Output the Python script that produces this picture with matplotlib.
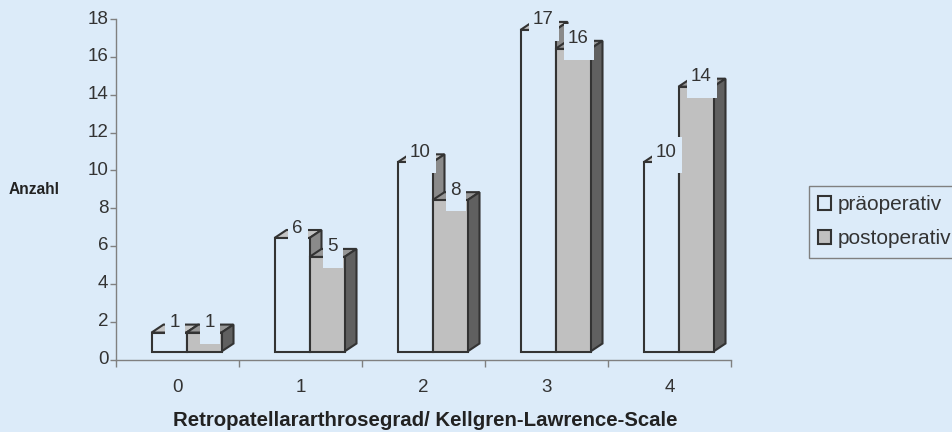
import matplotlib
matplotlib.use("Agg")
import matplotlib.pyplot as plt
from matplotlib.patches import Patch, Polygon, Rectangle
from matplotlib.transforms import ScaledTranslation

plt.rcParams['font.family'] = ['Liberation Sans', 'DejaVu Sans']

categories = [0, 1, 2, 3, 4]
pre_values = [1, 6, 10, 17, 10]
post_values = [1, 5, 8, 16, 14]
y_ticks = [0, 2, 4, 6, 8, 10, 12, 14, 16, 18]

BG = '#dcebf9'
EDGE = '#333333'
GREY = '#808080'

fig = plt.figure(figsize=(9.52, 4.32), dpi=100, facecolor=BG)
ax = fig.add_axes([116 / 952, 1 - 359.5 / 432, 615 / 952, 340.5 / 432], facecolor=BG)
ax.set_xlim(-0.5, 4.5)
ax.set_ylim(0, 18)

# size of one pixel in data units, used for the fake 3D offsets
px = 5.0 / 615
py = 18.0 / 340.5
bar_w = 35 * px
depth_x = 12 * px
depth_y = 8 * py
base = depth_y


def bar3d(x0, value, front, top, side, z):
    y1 = base + value
    x1 = x0 + bar_w
    style = dict(edgecolor=EDGE, linewidth=1.5, joinstyle='miter', zorder=z)
    ax.add_patch(Polygon([(x0, y1), (x0 + depth_x, y1 + depth_y),
                          (x1 + depth_x, y1 + depth_y), (x1, y1)],
                         facecolor=top, **style))
    ax.add_patch(Polygon([(x1, base), (x1 + depth_x, base + depth_y),
                          (x1 + depth_x, y1 + depth_y), (x1, y1)],
                         facecolor=side, **style))
    ax.add_patch(Rectangle((x0, base), bar_w, value, facecolor=front, **style))


def label(x0, value, z):
    # value label sits on a background coloured box which cuts into the bars
    txt = str(value)
    y1 = base + value
    if len(txt) > 1:
        left, width = 8 * px, 30 * px
    else:
        left, width = 13 * px, 20 * px
    ax.add_patch(Rectangle((x0 + left, y1 - 11 * py), width, 36 * py,
                           facecolor=BG, edgecolor='none', zorder=z))
    ax.text(x0 + 23 * px, y1 + 10 * py, txt, ha='center', va='center',
            fontsize=13.5, color='#333333', zorder=z + 1)


for c, pre, post in zip(categories, pre_values, post_values):
    x_pre = c - 26 * px
    x_post = x_pre + bar_w
    bar3d(x_pre, pre, BG, '#c4c4c4', '#8a8a8a', 3)
    bar3d(x_post, post, '#c0c0c0', '#969696', '#606060', 4)
    label(x_pre, pre, 5)
    label(x_post, post, 7)

for s in ['top', 'right']:
    ax.spines[s].set_visible(False)
for s in ['left', 'bottom']:
    ax.spines[s].set_color(GREY)
    ax.spines[s].set_linewidth(1.0)

ax.set_yticks(y_ticks)
ax.set_xticks([-0.5, 0.5, 1.5, 2.5, 3.5, 4.5])
ax.set_xticklabels([])
ax.set_xticks(categories, minor=True)
ax.set_xticklabels([str(c) for c in categories], minor=True)
ax.tick_params(axis='y', length=4, width=1, color=GREY, labelsize=13.5,
               labelcolor='#333333', pad=1.5)
ax.tick_params(axis='x', which='major', length=5, width=1, color=GREY)
ax.tick_params(axis='x', which='minor', length=0, labelsize=13.5,
               labelcolor='#333333', pad=14)

# y tick labels sit slightly above their ticks
shift = ScaledTranslation(0, 2 / 72 * 0.72, fig.dpi_scale_trans)
for t in ax.get_yticklabels():
    t.set_transform(t.get_transform() + shift)

fig.text(9 / 952, 1 - 189 / 432, 'Anzahl', fontsize=11.2, fontweight='bold',
         color='#222222', va='center', ha='left')
fig.text(425 / 952, 1 - 420 / 432, 'Retropatellararthrosegrad/ Kellgren-Lawrence-Scale',
         fontsize=14.7, fontweight='bold', color='#222222', va='center', ha='center')

handles = [Patch(facecolor=BG, edgecolor=EDGE, linewidth=1.5, label='präoperativ'),
           Patch(facecolor='#c0c0c0', edgecolor=EDGE, linewidth=1.5, label='postoperativ')]
leg = fig.legend(handles=handles, loc='upper left',
                 bbox_to_anchor=(809 / 952, 1 - 186 / 432), bbox_transform=fig.transFigure,
                 fontsize=15, frameon=True, fancybox=False, edgecolor=GREY,
                 facecolor=BG, framealpha=1, handlelength=0.6, handleheight=0.6,
                 handletextpad=0.35, labelspacing=0.72, borderpad=0.45, borderaxespad=0)
leg.get_frame().set_linewidth(1.0)
for t in leg.get_texts():
    t.set_color('#333333')

fig.savefig('out.png', dpi=100, facecolor=BG)
